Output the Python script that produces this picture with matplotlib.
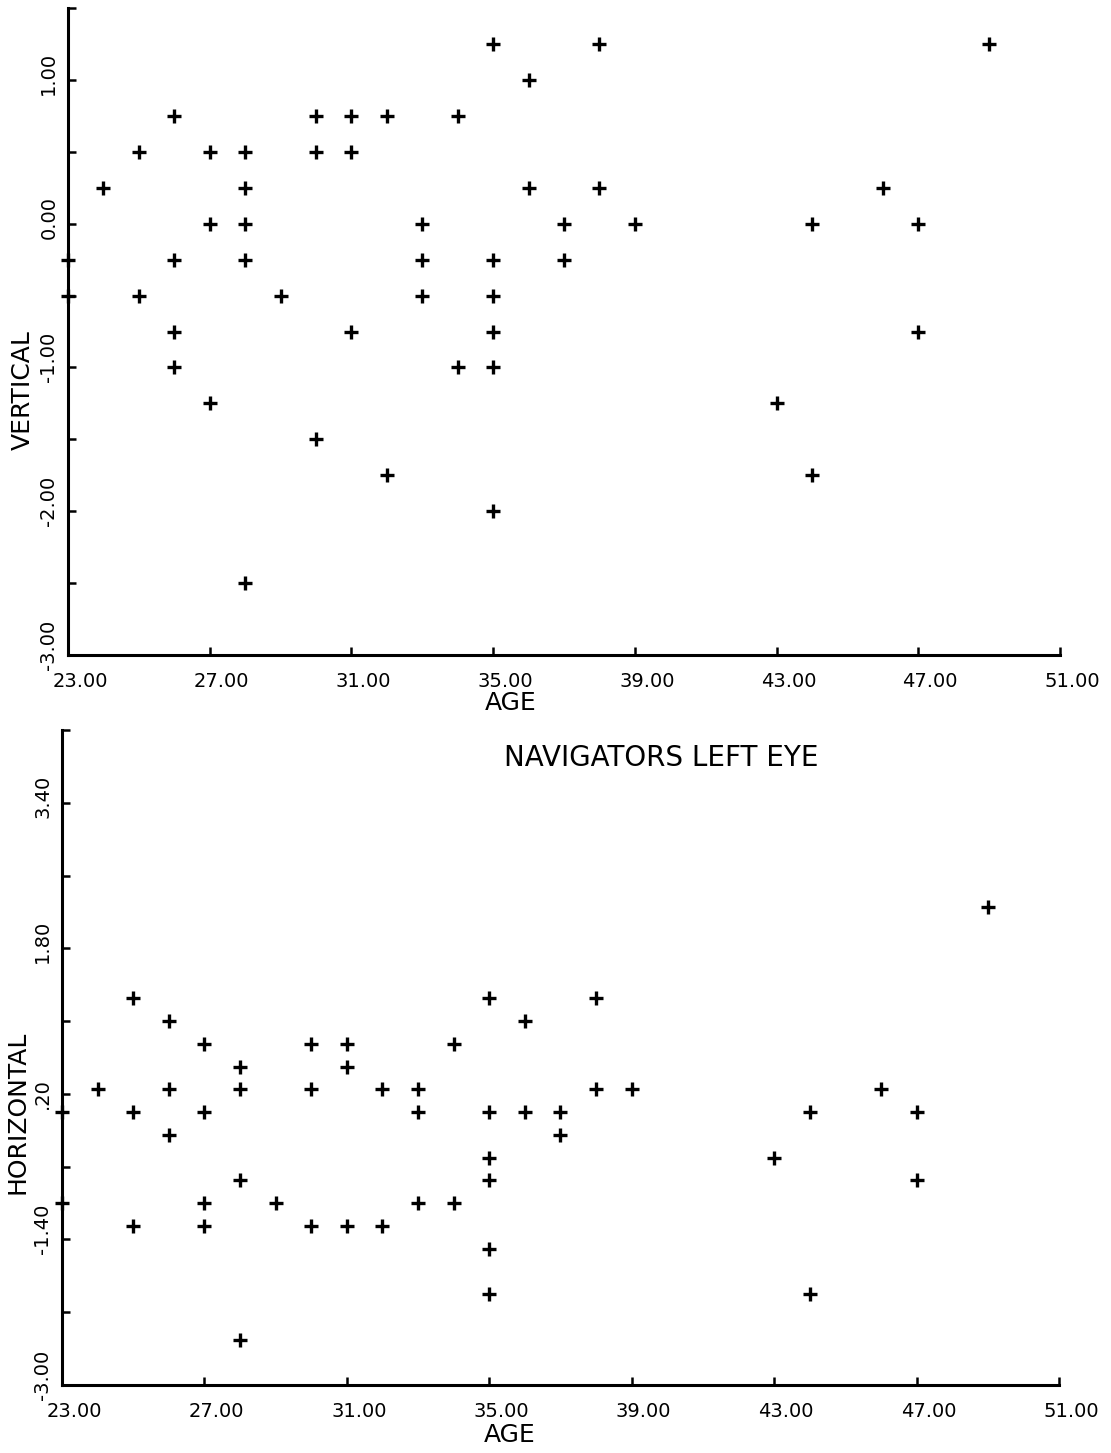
import matplotlib
matplotlib.use("Agg")
import matplotlib.pyplot as plt
from matplotlib.transforms import ScaledTranslation
import numpy as np

# ---- data ----
age_v = [23, 23, 24, 25, 25, 26, 26, 26, 26, 27, 27, 27, 28, 28, 28, 28, 28, 29,
         30, 30, 30, 31, 31, 31, 32, 32, 33, 33, 33, 34, 34, 35, 35, 35, 35, 35, 35,
         36, 36, 37, 37, 38, 38, 39, 43, 44, 44, 46, 47, 47, 49]
vertical = [-0.25, -0.5, 0.25, 0.5, -0.5, 0.75, -0.25, -0.75, -1.0, 0.5, 0.0, -1.25,
            0.5, 0.25, 0.0, -0.25, -2.5, -0.5, 0.75, 0.5, -1.5, 0.75, 0.5, -0.75,
            0.75, -1.75, 0.0, -0.25, -0.5, 0.75, -1.0, 1.25, -0.25, -0.5, -0.75, -1.0,
            -2.0, 1.0, 0.25, 0.0, -0.25, 1.25, 0.25, 0.0, -1.25, 0.0, -1.75, 0.25, 0.0,
            -0.75, 1.25]

age_h = [23, 23, 24, 25, 25, 25, 26, 26, 26, 27, 27, 27, 27, 28, 28, 28, 28, 29,
         30, 30, 30, 31, 31, 31, 32, 32, 33, 33, 33, 34, 34, 35, 35, 35, 35, 35, 35,
         36, 36, 37, 37, 38, 38, 39, 43, 44, 44, 46, 47, 47, 49]
horizontal = [0.0, -1.0, 0.25, 1.25, 0.0, -1.25, 1.0, 0.25, -0.25, 0.75, 0.0, -1.0,
              -1.25, 0.5, 0.25, -0.75, -2.5, -1.0, 0.75, 0.25, -1.25, 0.75, 0.5, -1.25,
              0.25, -1.25, 0.25, 0.0, -1.0, 0.75, -1.0, 1.25, 0.0, -0.5, -0.75, -1.5,
              -2.0, 1.0, 0.0, 0.0, -0.25, 1.25, 0.25, 0.25, -0.5, 0.0, -2.0, 0.25, 0.0,
              -0.75, 2.25]

x_ticks = [23, 27, 31, 35, 39, 43, 47, 51]
x_labels = ["23.00", "27.00", "31.00", "35.00", "39.00", "43.00", "47.00", "51.00"]
v_ticks = [-3.0, -2.5, -2.0, -1.5, -1.0, -0.5, 0.0, 0.5, 1.0, 1.5]
v_labels = ["-3.00", "", "-2.00", "", "-1.00", "", "0.00", "", "1.00", ""]
h_ticks = [-3.0, -2.2, -1.4, -0.6, 0.2, 1.0, 1.8, 2.6, 3.4, 4.2]
h_labels = ["-3.00", "", "-1.40", "", ".20", "", "1.80", "", "3.40", ""]

plt.rcParams['font.family'] = ['DejaVu Sans']

fig = plt.figure(figsize=(11.11, 14.53), dpi=100)
ax1 = fig.add_axes([0.0612, 0.5492, 0.8929, 0.4453])
ax2 = fig.add_axes([0.0558, 0.0468, 0.8974, 0.4508])


def style(ax, xs, ys, yticks, ylabels, ylim, ylabel, label_y, age_x, age_top):
    ax.plot(xs, ys, linestyle='none', marker='+', markersize=10, markeredgewidth=2.4,
            color='black', clip_on=False)
    ax.set_xlim(23, 51)
    ax.set_ylim(*ylim)
    for s in ['top', 'right']:
        ax.spines[s].set_visible(False)
    for s in ['left', 'bottom']:
        ax.spines[s].set_linewidth(2.2)
    ax.set_xticks(x_ticks)
    ax.set_xticklabels(x_labels)
    ax.set_yticks(yticks)
    ax.set_yticklabels(ylabels, rotation=90, va='bottom')
    ax.tick_params(axis='both', direction='in', length=6, width=1.8, labelsize=14)
    ax.tick_params(axis='x', pad=12)
    ax.tick_params(axis='y', pad=7)
    offx = ScaledTranslation(12 / 100, 0, fig.dpi_scale_trans)
    for lab in ax.get_xticklabels():
        lab.set_transform(lab.get_transform() + offx)
    offy = ScaledTranslation(0, -15 / 100, fig.dpi_scale_trans)
    for lab in ax.get_yticklabels():
        lab.set_transform(lab.get_transform() + offy)
    ax.set_ylabel(ylabel, fontsize=18)
    ax.yaxis.set_label_coords(-0.033, label_y)
    ax.text(age_x, age_top, "AGE", transform=ax.transAxes, fontsize=18,
            ha='left', va='top')


style(ax1, age_v, vertical, v_ticks, v_labels, (-3.0, 1.5), "VERTICAL", 0.41, 0.42, -0.056)
style(ax2, age_h, horizontal, h_ticks, h_labels, (-3.0, 4.2), "HORIZONTAL", 0.417, 0.423, -0.058)

ax2.text(0.601, 0.957, "NAVIGATORS LEFT EYE", transform=ax2.transAxes, fontsize=20,
         ha='center', va='center')

fig.savefig("out.png", dpi=100, facecolor='white')
